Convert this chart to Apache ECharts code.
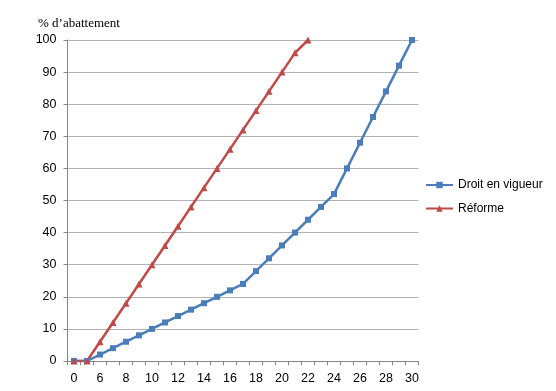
<!DOCTYPE html>
<html>
<head>
<meta charset="utf-8">
<script src="https://cdn.jsdelivr.net/npm/echarts@6/dist/echarts.min.js"></script>
<style>html,body{margin:0;padding:0;background:#fff}#c{width:556px;height:391px}</style>
</head>
<body>
<div id="c"></div>
<script>
var categories = ['0','5','6','7','8','9','10','11','12','13','14','15','16','17','18','19','20','21','22','23','24','25','26','27','28','29','30'];
var droitEnVigueur = [0,0,2,4,6,8,10,12,14,16,18,20,22,24,28,32,36,40,44,48,52,60,68,76,84,92,100];
var reforme = [0,0,6,12,18,24,30,36,42,48,54,60,66,72,78,84,90,96,100];
var yTicks = {min:0, max:100, interval:10};

var chart = echarts.init(document.getElementById('c'));
chart.setOption({
  animation:false,
  backgroundColor:'#fff',
  title:{text:'% d\u2019abattement', left:33, top:12,
    textStyle:{fontFamily:'Liberation Serif', fontSize:13, fontWeight:'normal', color:'#000'}},
  grid:{left:67.5, right:137.5, top:40, bottom:30},
  legend:{orient:'vertical', left:420, top:174, itemGap:11.5, itemWidth:27, itemHeight:8,
    textStyle:{fontFamily:'Liberation Sans', fontSize:12, color:'#000'},
    data:['Droit en vigueur','Réforme']},
  xAxis:{type:'category', data:categories, boundaryGap:true,
    axisLine:{lineStyle:{color:'#868686'}},
    axisTick:{show:true, length:4, interval:0, lineStyle:{color:'#868686'}},
    axisLabel:{interval:function(i){return i%2===0;}, color:'#000', fontFamily:'Liberation Sans', fontSize:12.5, margin:11}},
  yAxis:{type:'value', min:yTicks.min, max:yTicks.max, interval:yTicks.interval,
    axisLine:{show:true, lineStyle:{color:'#868686'}},
    axisTick:{show:true, length:4, lineStyle:{color:'#868686'}},
    splitLine:{lineStyle:{color:'#b3b3b3'}},
    axisLabel:{color:'#000', fontFamily:'Liberation Sans', fontSize:12.5, margin:11}},
  series:[
    {name:'Droit en vigueur', type:'line', data:droitEnVigueur, symbol:'rect', symbolSize:6,
      lineStyle:{color:'#4a7ebb', width:2.5}, itemStyle:{color:'#4a7ebb'}},
    {name:'Réforme', type:'line', data:reforme, symbol:'triangle', symbolSize:7,
      lineStyle:{color:'#be4b48', width:2.5}, itemStyle:{color:'#be4b48'}}
  ]
});
</script>
</body>
</html>
